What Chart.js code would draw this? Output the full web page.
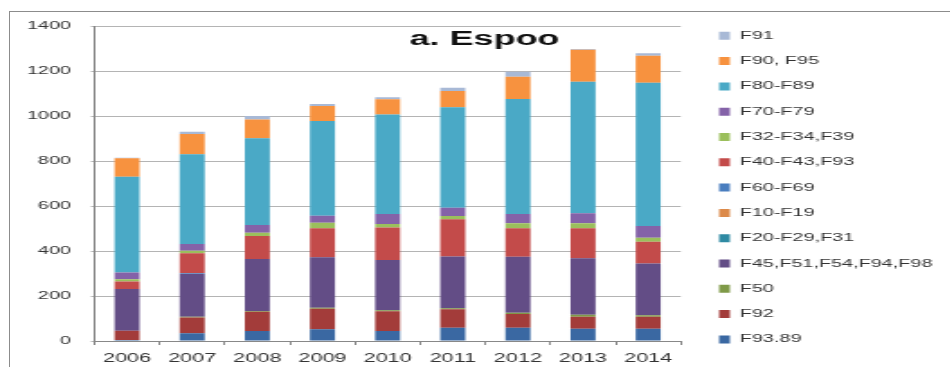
<!DOCTYPE html>
<html>
<head>
<meta charset="utf-8">
<script src="https://cdn.jsdelivr.net/npm/chart.js@4"></script>
<style>
  body { margin: 0; background: #fff; overflow: hidden; }
  #frame { position: absolute; left: 9px; top: 11px; width: 960px; height: 380px;
           border-top: 1.5px solid #8c8c8c; border-left: 1.5px solid #8c8c8c; }
  /* the source picture is stretched sideways, so the chart is too */
  #wrap { position: absolute; left: 0; top: 0; width: 528px; height: 367px;
          transform: scaleX(1.8); transform-origin: 0 0; }
</style>
</head>
<body>
<div id="frame"></div>
<div id="wrap"><canvas id="myChart"></canvas></div>
<script>
const years = ['2006', '2007', '2008', '2009', '2010', '2011', '2012', '2013', '2014']
const yTicks = [0, 200, 400, 600, 800, 1000, 1200, 1400]

// stacked from the bottom up
const f93_89 = [5, 34, 44, 52, 44, 59, 59, 55, 55]
const f92 = [41, 71, 86, 91, 88, 82, 61, 53, 53]
const f50 = [0, 3, 3, 5, 5, 5, 6, 9, 7]
const f45 = [185, 190, 231, 224, 223, 230, 249, 251, 230]
const f20 = [0, 0, 0, 0, 0, 0, 0, 0, 0]
const f10 = [0, 0, 0, 0, 0, 0, 0, 0, 0]
const f60 = [0, 3, 0, 0, 0, 0, 0, 0, 0]
const f40 = [33, 89, 103, 129, 145, 165, 126, 133, 96]
const f32 = [10, 11, 14, 25, 15, 15, 22, 22, 18]
const f70 = [31, 30, 35, 31, 44, 36, 41, 45, 52]
const f80 = [425, 399, 385, 421, 443, 447, 512, 584, 637]
const f90 = [82, 90, 84, 66, 67, 72, 99, 142, 120]
const f91 = [3, 10, 15, 9, 9, 15, 22, 4, 11]

Chart.defaults.font.family = "'Liberation Sans', Arial, sans-serif"
Chart.defaults.color = '#333'

const titlePlugin = {
    id: 'innerTitle',
    afterDraw(chart) {
        const { ctx, chartArea } = chart
        ctx.save()
        ctx.font = "bold 20px 'Liberation Sans', Arial, sans-serif"
        ctx.fillStyle = '#111'
        ctx.textBaseline = 'alphabetic'
        ctx.fillText('a. Espoo', chartArea.left + 175, chartArea.top + 19)
        ctx.restore()
    }
}

const ds = (label, data, color) => ({ label, data, backgroundColor: color, borderWidth: 0 })

new Chart(document.getElementById('myChart'), {
    type: 'bar',
    data: {
        labels: years,
        datasets: [
            ds('F93.89', f93_89, '#3a68a2'),
            ds('F92', f92, '#a33c3a'),
            ds('F50', f50, '#7f9a48'),
            ds('F45,F51,F54,F94,F98', f45, '#634d86'),
            ds('F20-F29,F31', f20, '#2f8aa3'),
            ds('F10-F19', f10, '#dc8a4a'),
            ds('F60-F69', f60, '#4a7ebf'),
            ds('F40-F43,F93', f40, '#c34b4a'),
            ds('F32-F34,F39', f32, '#9bbf5c'),
            ds('F70-F79', f70, '#8462a8'),
            ds('F80-F89', f80, '#4aa9c6'),
            ds('F90, F95', f90, '#f7923f'),
            ds('F91', f91, '#a8b9d6')
        ]
    },
    options: {
        responsive: true,
        maintainAspectRatio: false,
        animation: false,
        barPercentage: 0.48,
        categoryPercentage: 0.8,
        layout: { padding: { left: 4, top: 16, right: 0, bottom: 0 } },
        plugins: {
            legend: {
                position: 'right',
                align: 'start',
                reverse: true,
                maxWidth: 160,
                labels: { boxWidth: 6, boxHeight: 8, padding: 14.3, font: { size: 11 } }
            },
            tooltip: { enabled: false }
        },
        scales: {
            x: {
                stacked: true,
                grid: { drawOnChartArea: false, offset: true, tickLength: 4, color: '#888' },
                border: { color: '#888' },
                ticks: { font: { size: 12 }, padding: 6 },
                afterFit: axis => { axis.height = 26 }
            },
            y: {
                stacked: true,
                min: 0,
                max: 1400,
                afterBuildTicks: axis => { axis.ticks = yTicks.map(v => ({ value: v })) },
                grid: { color: '#b4b4b4', tickLength: 2 },
                border: { color: '#888' },
                ticks: { font: { size: 11 }, padding: 11, callback: v => String(v) }
            },
            topGap: {
                type: 'linear',
                position: 'top',
                grid: { display: false },
                border: { display: false },
                ticks: { display: false },
                afterFit: axis => { axis.height = 10 }
            },
            gap: {
                type: 'linear',
                position: 'right',
                grid: { display: false },
                border: { display: false },
                ticks: { display: false },
                afterFit: axis => { axis.width = 7 }
            }
        }
    },
    plugins: [titlePlugin]
})
</script>
</body>
</html>
